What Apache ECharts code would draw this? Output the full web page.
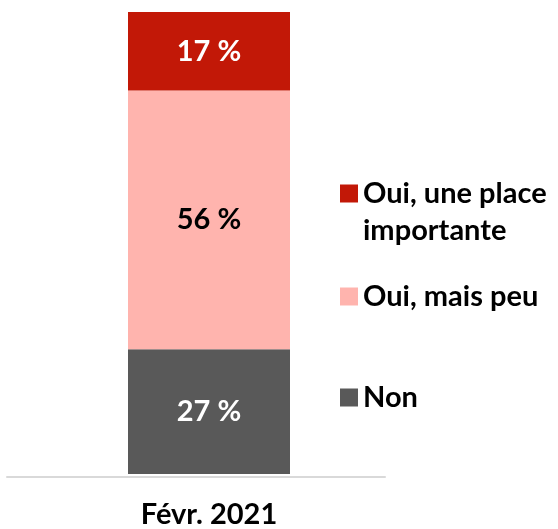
<!DOCTYPE html>
<html>
<head>
<meta charset="utf-8">
<script src="https://cdn.jsdelivr.net/npm/echarts@6/dist/echarts.min.js"></script>
<style>
html,body{margin:0;padding:0;background:#fff;}
#chart{width:558px;height:529px;}
</style>
</head>
<body>
<div id="chart"></div>
<script>
const categories = ['Févr. 2021'];
const seriesNames = ['Oui, une place importante', 'Oui, mais peu', 'Non'];
const nonValues = [27];
const peuValues = [56];
const importanteValues = [17];
const colors = { 'Oui, une place importante': '#C21807', 'Oui, mais peu': '#FFB4AE', 'Non': '#595959' };
const labelColors = { 'Oui, une place importante': '#fff', 'Oui, mais peu': '#000', 'Non': '#fff' };

const FONT = 'Lato';
const FS = 29;
const chart = echarts.init(document.getElementById('chart'));

function barSeries(name, data) {
  return {
    name: name,
    type: 'bar',
    stack: 'total',
    xAxisIndex: 0,
    yAxisIndex: 0,
    barWidth: 162,
    data: data,
    itemStyle: { color: colors[name] },
    label: {
      show: true,
      position: 'inside',
      formatter: '{c} %',
      color: labelColors[name],
      fontFamily: FONT,
      fontWeight: 'bold',
      fontSize: FS
    }
  };
}

function legendFor(name, top) {
  return {
    data: [name],
    orient: 'vertical',
    left: 340,
    top: top,
    padding: 0,
    itemWidth: 18,
    itemHeight: 18,
    icon: 'rect',
    selectedMode: false,
    formatter: function (n) { return n === 'Oui, une place importante' ? ' \nOui, une place\nimportante' : n; },
    textStyle: {
      color: '#000',
      fontFamily: FONT,
      fontWeight: 'bold',
      fontSize: FS,
      lineHeight: 37
    }
  };
}

chart.setOption({
  animation: false,
  color: seriesNames.map(n => colors[n]),
  grid: [
    { left: 33, right: 173, top: 12, bottom: 52 },
    { left: 7, right: 173, top: 12, bottom: 52 }
  ],
  xAxis: [
    {
      type: 'category', gridIndex: 0, data: categories,
      axisLine: { show: false }, axisTick: { show: false },
      axisLabel: { color: '#000', fontFamily: FONT, fontWeight: 'bold', fontSize: FS, margin: 26 }
    },
    {
      type: 'category', gridIndex: 1, data: categories,
      axisLine: { show: true, lineStyle: { color: '#D9D9D9', width: 2 } },
      axisTick: { show: false }, axisLabel: { show: false }
    }
  ],
  yAxis: [
    { type: 'value', gridIndex: 0, min: 0, max: 100, show: false },
    { type: 'value', gridIndex: 1, min: 0, max: 100, show: false }
  ],
  legend: [
    legendFor('Oui, une place importante', 138),
    legendFor('Oui, mais peu', 278),
    legendFor('Non', 379)
  ],
  series: [
    barSeries('Non', nonValues),
    barSeries('Oui, mais peu', peuValues),
    barSeries('Oui, une place importante', importanteValues)
  ]
});
</script>
</body>
</html>
